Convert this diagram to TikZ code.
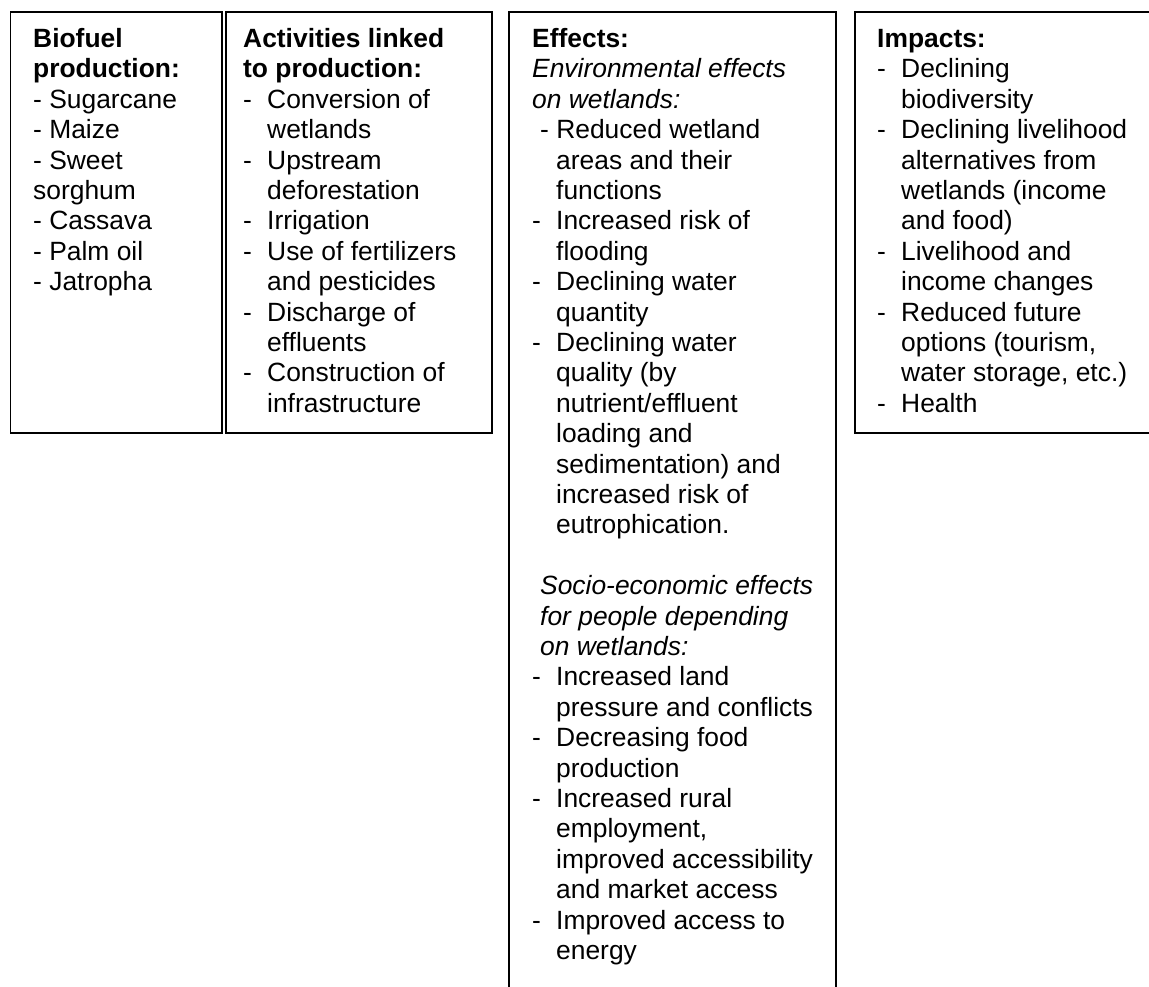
\documentclass[tikz,border=0pt]{standalone}
\usepackage{fontspec}
\setmainfont{Liberation Sans}[Ligatures=NoCommon]
\newcommand\dsh{\makebox[24pt][l]{-}}
\newcommand\myind{\hspace*{24pt}}
\begin{document}
\begin{tikzpicture}[x=1pt,y=-1pt,
  txt/.style={anchor=base west, inner sep=0pt, font=\fontsize{26.4}{30.4}\selectfont},
  boxline/.style={line width=1.5pt, line join=miter}]
\useasboundingbox (0,0) rectangle (1149,986);
\clip (0,0) rectangle (1149,986);
% boxes
\draw[boxline] (10.5,12) rectangle (222,433);
\draw[boxline] (226,12) rectangle (492,433);
\draw[boxline] (509,1000) -- (509,12) -- (836,12) -- (836,1000);
\draw[boxline] (1160,433) -- (855,433) -- (855,12) -- (1160,12);
% box 1
\foreach \t [count=\i from 0] in {{\bfseries Biofuel},{\bfseries production:},- Sugarcane,- Maize,- Sweet,sorghum,- Cassava,- Palm oil,- Jatropha}
  \node[txt] (bio\i) at (33,47.5+\i*30.4) {\t};
% box 2
\foreach \t [count=\i from 0] in {{\bfseries Activities linked},{\bfseries to production:},\dsh Conversion of,\myind wetlands,\dsh Upstream,\myind deforestation,\dsh Irrigation,\dsh Use of fertilizers,\myind and pesticides,\dsh Discharge of,\myind effluents,\dsh Construction of,\myind infrastructure}
  \node[txt] (act\i) at (243,47.5+\i*30.4) {\t};
% box 3
\foreach \t [count=\i from 0] in {{\bfseries Effects:},{\itshape Environmental effects},{\itshape on wetlands:},\hspace*{8pt}- Reduced wetland,\myind areas and their,\myind functions,\dsh Increased risk of,\myind flooding,\dsh Declining water,\myind quantity,\dsh Declining water,\myind quality (by,\myind nutrient/effluent,\myind loading and,\myind sedimentation) and,\myind increased risk of,\myind eutrophication.}
  \node[txt] (env\i) at (532,47.5+\i*30.4) {\t};
\foreach \t [count=\i from 18] in {\hspace*{8pt}{\itshape Socio-economic effects},\hspace*{8pt}{\itshape for people depending},\hspace*{8pt}{\itshape on wetlands:},\dsh Increased land,\myind pressure and conflicts,\dsh Decreasing food,\myind production,\dsh Increased rural,{\myind employment,},\myind improved accessibility,\myind and market access,\dsh Improved access to,\myind energy}
  \node[txt] (soc\i) at (532,47.5+\i*30.4) {\t};
% box 4
\foreach \t [count=\i from 0] in {{\bfseries Impacts:},\dsh Declining,\myind biodiversity,\dsh Declining livelihood,\myind alternatives from,\myind wetlands (income,\myind and food),\dsh Livelihood and,\myind income changes,\dsh Reduced future,{\myind options (tourism,},{\myind water storage, etc.)},\dsh Health}
  \node[txt] (imp\i) at (877,47.5+\i*30.4) {\t};
\end{tikzpicture}
\end{document}
